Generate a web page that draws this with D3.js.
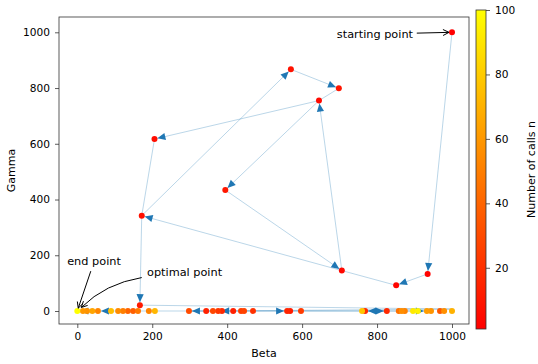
<!DOCTYPE html>
<html>
<head>
<meta charset="utf-8">
<script src="https://cdn.jsdelivr.net/npm/d3@7"></script>
<style>
  body { margin: 0; background: #fff; }
  text { font-family: "DejaVu Sans", sans-serif; fill: #000; }
</style>
</head>
<body>
<div id="chart"></div>
<script>
// every function call (beta, gamma, call number n)
let callBeta = [1000, 935, 851, 706, 645, 206, 172, 570, 698, 395, 167,
    568, 416, 344, 560, 386, 826, 768, 469, 376, 597, 437, 445, 362, 298, 968,
    149, 135, 858, 162, 122, 874, 191, 55, 109, 866, 979, 26, 944, 15, 933,
    40, 1000, 207, 90, 760, 896, 909, 0];
let callGamma = [1000, 133, 92, 145, 755, 617, 342, 867, 799, 434, 21,
    0, 0, 0, 0, 0, 0, 0, 0, 0, 0, 0, 0, 0, 0, 0,
    0, 0, 0, 0, 0, 0, 0, 0, 0, 0, 0, 0, 0, 0, 0,
    0, 0, 0, 0, 0, 0, 0, 0];
let callN = [1, 2, 3, 4, 5, 6, 7, 8, 9, 10, 11,
    12, 13, 14, 15, 16, 17, 18, 20, 22, 24, 25, 27, 28, 30, 35,
    38, 40, 45, 48, 50, 51, 52, 53, 55, 56, 57, 58, 59, 60, 62,
    65, 70, 72, 75, 78, 92, 95, 100];

// path of the iterates
let pathBeta = [1000, 935, 851, 706, 645, 206, 172, 570, 698, 645, 395, 706, 172, 167,
    1000, 376, 298, 560, 826, 768, 933, 55, 0];
let pathGamma = [1000, 133, 92, 145, 755, 617, 342, 867, 799, 755, 434, 145, 342, 21,
    7, 0, 0, 0, 0, 0, 0, 0, 0];
let noHead = [2, 5, 8, 13];

let xTicks = [0, 200, 400, 600, 800, 1000];
let yTicks = [0, 200, 400, 600, 800, 1000];
let cTicks = [20, 40, 60, 80, 100];

let svgwidth = 538;
let svgheight = 364;
let box = {left: 59, right: 469, top: 17, bottom: 324};

let svg = d3.select('#chart').append('svg')
    .attr('width', svgwidth)
    .attr('height', svgheight);

let x = d3.scaleLinear().domain([0, 1000]).range([77.3, 452]);
let y = d3.scaleLinear().domain([0, 1000]).range([311, 32.3]);
let c = d3.scaleLinear().domain([1, 100]).range([329, 10]);
let color = n => d3.interpolateRgb('#ff0000', '#ffff00')((n - 1) / 99);

// axes
let xAxis = svg.append('g')
    .attr('transform', `translate(0, ${box.bottom})`)
    .call(d3.axisBottom(x).tickValues(xTicks).tickFormat(d3.format('d')).tickSize(4).tickPadding(4));
let yAxis = svg.append('g')
    .attr('transform', `translate(${box.left}, 0)`)
    .call(d3.axisLeft(y).tickValues(yTicks).tickFormat(d3.format('d')).tickSize(4).tickPadding(5));
[xAxis, yAxis].forEach(g => {
    g.select('.domain').remove();
    g.selectAll('line').attr('stroke', '#333').attr('stroke-width', 0.8);
    g.selectAll('text').attr('font-size', '10.6px').attr('font-family', 'DejaVu Sans');
});

svg.append('text')
    .attr('x', (box.left + box.right) / 2)
    .attr('y', 357)
    .attr('text-anchor', 'middle')
    .attr('font-size', '11px')
    .text('Beta');

svg.append('text')
    .attr('transform', `translate(15, ${(box.top + box.bottom) / 2}) rotate(-90)`)
    .attr('text-anchor', 'middle')
    .attr('font-size', '11px')
    .text('Gamma');

// path lines
let segs = d3.range(pathBeta.length - 1).map(i => ({
    i: i,
    x0: x(pathBeta[i]), y0: y(pathGamma[i]),
    x1: x(pathBeta[i + 1]), y1: y(pathGamma[i + 1])
}));

svg.append('g').selectAll('line')
    .data(segs)
    .enter()
    .append('line')
    .attr('x1', d => d.x0).attr('y1', d => d.y0)
    .attr('x2', d => d.x1).attr('y2', d => d.y1)
    .attr('stroke', '#1f77b4')
    .attr('stroke-opacity', 0.3)
    .attr('stroke-width', 1);

// arrow heads at the end of each step
function headPath(x0, y0, x1, y1, shrink, len, hw) {
    let dx = x1 - x0, dy = y1 - y0;
    let l = Math.sqrt(dx * dx + dy * dy);
    let ux = dx / l, uy = dy / l;
    let tx = x1 - ux * shrink, ty = y1 - uy * shrink;
    let bx = tx - ux * len, by = ty - uy * len;
    return `M${tx},${ty}L${bx - uy * hw},${by + ux * hw}L${bx + uy * hw},${by - ux * hw}Z`;
}

svg.append('g').selectAll('path')
    .data(segs.filter(d => noHead.indexOf(d.i) < 0))
    .enter()
    .append('path')
    .attr('d', d => headPath(d.x0, d.y0, d.x1, d.y1, 3, 8, 3.6))
    .attr('fill', '#1f77b4');

// calls
let calls = callBeta.map((b, i) => ({b: b, g: callGamma[i], n: callN[i]}));
svg.append('g').selectAll('circle')
    .data(calls)
    .enter()
    .append('circle')
    .attr('cx', d => x(d.b))
    .attr('cy', d => y(d.g))
    .attr('r', 3)
    .attr('fill', d => color(d.n));

// frame
svg.append('rect')
    .attr('x', box.left).attr('y', box.top)
    .attr('width', box.right - box.left)
    .attr('height', box.bottom - box.top)
    .attr('fill', 'none')
    .attr('stroke', '#333')
    .attr('stroke-width', 0.8);

// annotations
function openHead(x0, y0, x1, y1, shrink) {
    let dx = x1 - x0, dy = y1 - y0;
    let l = Math.sqrt(dx * dx + dy * dy);
    let ux = dx / l, uy = dy / l;
    let tx = x1 - ux * shrink, ty = y1 - uy * shrink;
    let bx = tx - ux * 6, by = ty - uy * 6;
    return {tx: tx, ty: ty,
        d: `M${bx - uy * 3},${by + ux * 3}L${tx},${ty}L${bx + uy * 3},${by - ux * 3}`};
}

let ann = svg.append('g');

// starting point
let s0 = [x(906), y(997)], s1 = [x(1000), y(1000)];
let sh = openHead(s0[0], s0[1], s1[0], s1[1], 3);
ann.append('path').attr('d', `M${s0[0]},${s0[1]}L${sh.tx},${sh.ty}`)
    .attr('stroke', '#000').attr('fill', 'none');
ann.append('path').attr('d', sh.d).attr('stroke', '#000').attr('fill', 'none');
ann.append('text').attr('x', x(896)).attr('y', y(981))
    .attr('text-anchor', 'end').attr('font-size', '11.3px').text('starting point');

// end point
let e0 = [x(36), y(143)], e1 = [x(0), y(0)];
let eh = openHead(e0[0], e0[1], e1[0], e1[1], 3);
ann.append('path').attr('d', `M${e0[0]},${e0[1]}L${eh.tx},${eh.ty}`)
    .attr('stroke', '#000').attr('fill', 'none');
ann.append('path').attr('d', eh.d).attr('stroke', '#000').attr('fill', 'none');
ann.append('text').attr('x', x(-27)).attr('y', y(165))
    .attr('font-size', '11.3px').text('end point');

// optimal point (curved)
let o0 = [x(172), y(120)], o1 = [x(5), y(5)];
let rad = -0.16;
let qx = (o0[0] + o1[0]) / 2 + rad * (o1[1] - o0[1]);
let qy = (o0[1] + o1[1]) / 2 - rad * (o1[0] - o0[0]);
let oh = openHead(qx, qy, o1[0], o1[1], 3);
ann.append('path').attr('d', `M${o0[0]},${o0[1]}Q${qx},${qy} ${oh.tx},${oh.ty}`)
    .attr('stroke', '#000').attr('fill', 'none');
ann.append('path').attr('d', oh.d).attr('stroke', '#000').attr('fill', 'none');
ann.append('text').attr('x', x(186)).attr('y', y(126))
    .attr('font-size', '11.3px').text('optimal point');

// colorbar
let defs = svg.append('defs');
let grad = defs.append('linearGradient')
    .attr('id', 'cbar')
    .attr('x1', 0).attr('y1', 1).attr('x2', 0).attr('y2', 0);
grad.append('stop').attr('offset', '0%').attr('stop-color', color(1));
grad.append('stop').attr('offset', '100%').attr('stop-color', color(100));

svg.append('rect')
    .attr('x', 476).attr('y', c(100))
    .attr('width', 10).attr('height', c(1) - c(100))
    .attr('fill', 'url(#cbar)')
    .attr('stroke', '#333')
    .attr('stroke-width', 0.8);

let cAxis = svg.append('g')
    .attr('transform', 'translate(486, 0)')
    .call(d3.axisRight(c).tickValues(cTicks).tickSize(4).tickPadding(5));
cAxis.select('.domain').remove();
cAxis.selectAll('line').attr('stroke', '#333').attr('stroke-width', 0.8);
cAxis.selectAll('text').attr('font-size', '10.6px').attr('font-family', 'DejaVu Sans');

svg.append('text')
    .attr('transform', `translate(535, ${(c(1) + c(100)) / 2}) rotate(-90)`)
    .attr('text-anchor', 'middle')
    .attr('font-size', '11px')
    .text('Number of calls n');
</script>
</body>
</html>
